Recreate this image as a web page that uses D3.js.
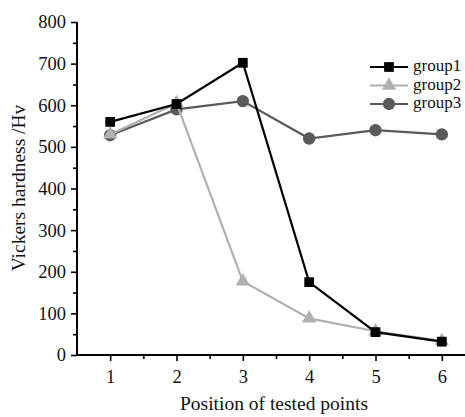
<!DOCTYPE html>
<html>
<head>
<meta charset="utf-8">
<script src="https://cdn.jsdelivr.net/npm/d3@7"></script>
<style>
  body { margin: 0; background: #fff; }
  svg { display: block; }
  svg text { font-family: "Liberation Serif", "DejaVu Serif", serif; }
</style>
</head>
<body>
<svg id="chart" width="465" height="417"></svg>
<script>
// Data
let positions = [1, 2, 3, 4, 5, 6];
let group1 = [560, 603, 702, 175, 55, 32];
let group2 = [530, 605, 177, 88, 57, 34];
let group3 = [528, 590, 610, 520, 540, 530];
let seriesNames = ['group1', 'group2', 'group3'];
let yTicks = [0, 100, 200, 300, 400, 500, 600, 700, 800];

let svg = d3.select('#chart');
let margin = {left: 77, top: 22, bottom: 355};

let scaleX = d3.scaleLinear().domain([0.5, 6.5]).range([77, 475]);
let scaleY = d3.scaleLinear().domain([0, 800]).range([355, 22]);

// Axes
let xAxis = d3.axisBottom(scaleX).tickValues(positions).tickSize(6).tickPadding(9)
    .tickFormat(d3.format('d'));
let gx = svg.append('g').attr('transform', 'translate(0,' + margin.bottom + ')').call(xAxis);
let xMinor = d3.axisBottom(scaleX).tickValues([1.5, 2.5, 3.5, 4.5, 5.5, 6.5]).tickSize(4).tickFormat('');
svg.append('g').attr('transform', 'translate(0,' + margin.bottom + ')').call(xMinor)
    .select('.domain').remove();

let yAxis = d3.axisLeft(scaleY).tickValues(yTicks).tickSize(6).tickPadding(5);
let gy = svg.append('g').attr('transform', 'translate(' + margin.left + ',0)').call(yAxis);
let yMinor = d3.axisLeft(scaleY).tickValues(yTicks.slice(0, -1).map(v => v + 50)).tickSize(4).tickFormat('');
svg.append('g').attr('transform', 'translate(' + margin.left + ',0)').call(yMinor)
    .select('.domain').remove();

svg.selectAll('g').attr('font-family', null).attr('font-size', null);
svg.selectAll('.domain').attr('stroke', '#000').attr('stroke-width', 2);
svg.selectAll('.tick line').attr('stroke', '#000').attr('stroke-width', 1.6);
svg.selectAll('.tick text').attr('font-size', 18.5).attr('fill', '#111');
gx.select('.domain').attr('d', 'M77,0H465');
gy.select('.domain').attr('d', 'M0,22V355');

// Axis titles
svg.append('text').attr('x', 274).attr('y', 410).attr('text-anchor', 'middle')
    .attr('font-size', 19.5).attr('fill', '#111').text('Position of tested points');
svg.append('text').attr('transform', 'translate(25,188) rotate(-90)').attr('text-anchor', 'middle')
    .attr('font-size', 19.5).attr('fill', '#111').text('Vickers hardness /Hv');

// Series
let series = [
  {name: seriesNames[0], values: group1, color: '#000000', shape: d3.symbolSquare, size: 95},
  {name: seriesNames[1], values: group2, color: '#b0b0b0', shape: d3.symbolTriangle, size: 90},
  {name: seriesNames[2], values: group3, color: '#5a5a5a', shape: d3.symbolCircle, size: 120}
];

let line = d3.line().x((d, i) => scaleX(positions[i])).y(d => scaleY(d));

// draw in reverse so black is on top
series.slice().reverse().forEach(s => {
  svg.append('path').datum(s.values).attr('d', line)
      .attr('fill', 'none').attr('stroke', s.color).attr('stroke-width', 2.2);
  svg.selectAll(null).data(s.values).join('path')
      .attr('transform', (d, i) => 'translate(' + scaleX(positions[i]) + ',' + scaleY(d) + ')')
      .attr('d', d3.symbol().type(s.shape).size(s.size))
      .attr('fill', s.color);
});

// Legend
let legend = svg.append('g');
series.forEach((s, i) => {
  let y = 67 + i * 18.5;
  legend.append('line').attr('x1', 370).attr('x2', 408).attr('y1', y).attr('y2', y)
      .attr('stroke', s.color).attr('stroke-width', 2.2);
  legend.append('path').attr('transform', 'translate(389,' + y + ')')
      .attr('d', d3.symbol().type(s.shape).size(s.size)).attr('fill', s.color);
  legend.append('text').attr('x', 413).attr('y', y + 4).attr('font-size', 17)
      .attr('fill', '#111').text(s.name);
});
</script>
</body>
</html>
